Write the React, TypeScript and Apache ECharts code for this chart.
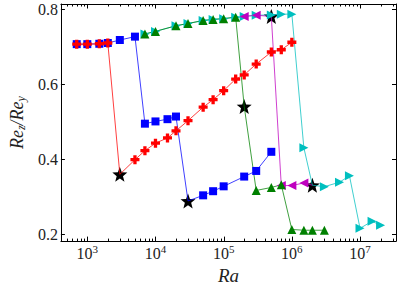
import React, { useEffect, useRef } from 'react';
import * as echarts from 'echarts';

// Ra values (x) and Re_z/Re_y values (y) for each branch
const raBlue = [700, 1000, 1500, 2000, 3000, 5000, 7000, 10000, 15000, 20000, 30000, 50000, 70000, 1e5, 2e5, 3e5, 5e5];
const reBlue = [0.707, 0.707, 0.708, 0.71, 0.718, 0.727, 0.495, 0.501, 0.507, 0.514, 0.289, 0.304, 0.315, 0.328, 0.354, 0.369, 0.42];

const raRed = [700, 1000, 1500, 2000, 3000, 5000, 7000, 10000, 15000, 20000, 30000, 50000, 70000, 1e5, 1.5e5, 2e5, 3e5, 5e5, 7e5, 1e6];
const reRed = [0.707, 0.707, 0.708, 0.71, 0.36, 0.399, 0.423, 0.443, 0.457, 0.476, 0.503, 0.539, 0.559, 0.583, 0.614, 0.625, 0.654, 0.686, 0.692, 0.712];

const raGreen = [7000, 10000, 20000, 30000, 50000, 70000, 1e5, 1.5e5, 2e5, 3e5, 5e5, 7e5, 1e6, 1.5e6, 2e6, 3e6];
const reGreen = [0.734, 0.741, 0.756, 0.762, 0.77, 0.773, 0.775, 0.779, 0.541, 0.317, 0.325, 0.332, 0.213, 0.211, 0.211, 0.211];

const raMagenta = [2e5, 3e5, 5e5, 7e5, 1e6, 1.5e6, 2e6];
const reMagenta = [0.781, 0.784, 0.781, 0.33, 0.33, 0.337, 0.331];

const raCyan = [7000, 10000, 20000, 30000, 50000, 70000, 1e5, 1.5e5, 2e5, 3e5, 5e5, 7e5, 1e6, 1.5e6, 2e6, 3e6, 5e6, 7e6, 1e7, 1.5e7, 2e7];
const reCyan = [0.734, 0.741, 0.756, 0.762, 0.77, 0.773, 0.775, 0.779, 0.781, 0.784, 0.785, 0.787, 0.787, 0.431, 0.331, 0.327, 0.339, 0.356, 0.216, 0.235, 0.224];

// transition points (black stars)
const raStar = [3000, 30000, 2e5, 5e5, 2e6];
const reStar = [0.36, 0.289, 0.541, 0.781, 0.331];

const xMajorTicks = [1e3, 1e4, 1e5, 1e6, 1e7];
const yTicks = [0.2, 0.4, 0.6, 0.8];

const X_MIN = 410;
const X_MAX = 3.37e7;
const Y_MIN = 0.182;
const Y_MAX = 0.814;

const FONT = '"Liberation Serif", "DejaVu Serif", serif';
const TXT = '#222';

function starPath(): string {
  const pts: string[] = [];
  for (let i = 0; i < 10; i++) {
    const r = i % 2 === 0 ? 1 : 0.42;
    const a = -Math.PI / 2 + (i * Math.PI) / 5;
    pts.push(`${(r * Math.cos(a)).toFixed(4)},${(r * Math.sin(a)).toFixed(4)}`);
  }
  return 'path://M' + pts.join('L') + 'Z';
}
const STAR = starPath();
const PLUS = 'path://M-1.1,-3L1.1,-3L1.1,-1.1L3,-1.1L3,1.1L1.1,1.1L1.1,3L-1.1,3L-1.1,1.1L-3,1.1L-3,-1.1L-1.1,-1.1Z';
const TRI_RIGHT = 'path://M0,0L2,1L0,2Z';
const TRI_LEFT = 'path://M2,0L0,1L2,2Z';

function isStar(x: number, y: number) {
  return raStar.some((s, i) => s === x && Math.abs(reStar[i] - y) < 1e-9);
}

function lineSeries(name: string, xs: number[], ys: number[], color: string, symbol: string, size: number) {
  return {
    name,
    type: 'line',
    xAxisIndex: 0,
    yAxisIndex: 0,
    data: xs.map((x, i) =>
      isStar(x, ys[i]) ? { value: [x, ys[i]], symbol: 'none' } : { value: [x, ys[i]] }
    ),
    symbol,
    symbolSize: size,
    showAllSymbol: true,
    lineStyle: { color, width: 1, opacity: 0.75 },
    itemStyle: { color, opacity: 1 },
    emphasis: { disabled: true },
  };
}

function minorTicks(): number[][] {
  const out: number[][] = [];
  for (let e = 2; e <= 7; e++) {
    for (let k = 1; k <= 9; k++) {
      const v = k * Math.pow(10, e);
      if (v > X_MIN && v < X_MAX) out.push([v, k === 1 ? 1 : 0]);
    }
  }
  return out;
}

export default function App() {
  const ref = useRef<HTMLDivElement>(null);
  useEffect(() => {
    if (!ref.current) return;
    const chart = echarts.init(ref.current, undefined, { renderer: 'svg' });
    const option: any = {
      animation: false,
      backgroundColor: '#fff',
      grid: { left: 53, right: 3, top: 4, bottom: 42, containLabel: false },
      xAxis: [
        {
          type: 'log',
          logBase: 10,
          min: X_MIN,
          max: X_MAX,
          position: 'bottom',
          name: 'Ra',
          nameLocation: 'middle',
          nameGap: 21,
          nameTextStyle: { fontFamily: FONT, fontStyle: 'italic', fontSize: 19, color: TXT, verticalAlign: 'top' },
          axisLine: { show: true, lineStyle: { color: '#000', width: 1 } },
          axisTick: { show: false },
          splitLine: { show: false },
          minorTick: { show: false },
          axisLabel: {
            customValues: xMajorTicks,
            margin: 2,
            showMinLabel: true,
            showMaxLabel: true,
            formatter: (v: number) => {
              const e = Math.log10(v);
              if (Math.abs(e - Math.round(e)) > 1e-6) return '';
              return `{b|10}{s|${Math.round(e)}}`;
            },
            rich: {
              b: { fontFamily: FONT, fontSize: 16, color: TXT, lineHeight: 20 },
              s: { fontFamily: FONT, fontSize: 11, color: TXT, lineHeight: 10, verticalAlign: 'top' },
            },
          },
        },
        {
          type: 'log',
          logBase: 10,
          min: X_MIN,
          max: X_MAX,
          position: 'top',
          axisLine: { show: true, lineStyle: { color: '#000', width: 1 } },
          axisTick: { show: false },
          axisLabel: { show: false },
          splitLine: { show: false },
        },
      ],
      yAxis: [
        {
          type: 'value',
          min: Y_MIN,
          max: Y_MAX,
          position: 'left',
          name: '{i|Re}{s|z}{i|/Re}{s|y}',
          nameLocation: 'middle',
          nameGap: 33,
          nameTextStyle: {
            rich: {
              i: { fontFamily: FONT, fontStyle: 'italic', fontSize: 18, color: TXT, lineHeight: 20 },
              s: { fontFamily: FONT, fontStyle: 'italic', fontSize: 12, color: TXT, lineHeight: 10, verticalAlign: 'bottom' },
            },
          },
          axisLine: { show: true, lineStyle: { color: '#000', width: 1 } },
          axisTick: { show: true, inside: true, length: 4, customValues: yTicks, lineStyle: { color: '#000' } },
          axisLabel: {
            customValues: yTicks,
            margin: 3,
            fontFamily: FONT,
            fontSize: 16,
            color: TXT,
            formatter: (v: number) => v.toFixed(1),
          },
          splitLine: { show: false },
        },
        {
          type: 'value',
          min: Y_MIN,
          max: Y_MAX,
          position: 'right',
          axisLine: { show: true, lineStyle: { color: '#000', width: 1 } },
          axisTick: { show: true, inside: true, length: 4, customValues: yTicks, lineStyle: { color: '#000' } },
          axisLabel: { show: false },
          splitLine: { show: false },
        },
      ],
      series: [
        {
          type: 'custom',
          xAxisIndex: 0,
          yAxisIndex: 0,
          silent: true,
          clip: false,
          data: minorTicks().map((t) => [t[0], 0.5, t[1]]),
          renderItem: (params: any, api: any) => {
            const cs = params.coordSys;
            const x = Math.round(api.coord([api.value(0), 0.5])[0]) + 0.5;
            const L = api.value(2) ? 4.5 : 2.5;
            return {
              type: 'group',
              children: [
                { type: 'line', shape: { x1: x, y1: cs.y + cs.height, x2: x, y2: cs.y + cs.height - L }, style: { stroke: '#000', lineWidth: 1 } },
                { type: 'line', shape: { x1: x, y1: cs.y, x2: x, y2: cs.y + L }, style: { stroke: '#000', lineWidth: 1 } },
              ],
            };
          },
        },
        lineSeries('cyan', raCyan, reCyan, '#00bfbf', TRI_RIGHT, 9),
        lineSeries('magenta', raMagenta, reMagenta, '#bf00bf', TRI_LEFT, 9),
        lineSeries('green', raGreen, reGreen, '#008000', 'triangle', 9),
        lineSeries('blue', raBlue, reBlue, '#0000ff', 'rect', 8),
        lineSeries('red', raRed, reRed, '#ff0000', PLUS, 9),
        {
          name: 'transition',
          type: 'scatter',
          xAxisIndex: 0,
          yAxisIndex: 0,
          data: raStar.map((x, i) => [x, reStar[i]]),
          symbol: STAR,
          symbolSize: 15,
          itemStyle: { color: '#000', opacity: 1 },
          emphasis: { disabled: true },
        },
      ],
    };
    chart.setOption(option);
    return () => chart.dispose();
  }, []);
  return (
    <div
      ref={ref}
      style={{ position: 'fixed', left: 0, top: 0, width: 399, height: 290, background: '#fff' }}
    />
  );
}
